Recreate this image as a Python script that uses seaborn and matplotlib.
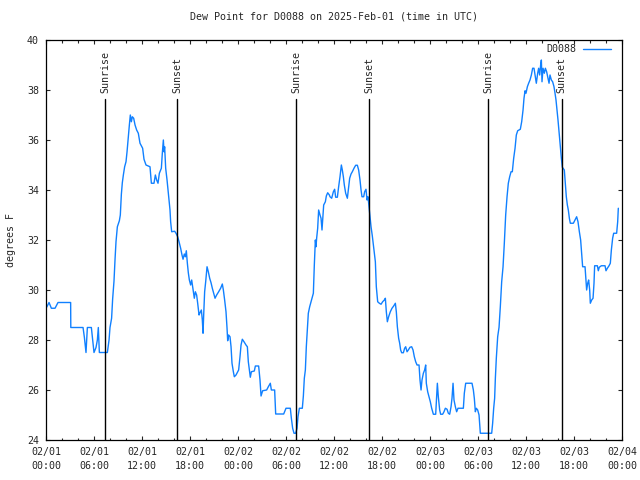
#DEW POINT D0088 - 3 day plot (gnuplot look)

import pandas as pd
import matplotlib
matplotlib.use("Agg")
import matplotlib.pyplot as plt
import matplotlib.dates as mdates
import seaborn as sns

#hours since 2025-02-01 00:00 UTC
hours = [0.08, 0.38, 0.67, 1.13, 1.5, 3.08, 3.1, 4.63, 4.8, 5.0, 5.17, 5.67, 5.83, 6.0, 6.25, 6.42,
         6.54, 6.67, 7.67, 7.88, 8.0, 8.2, 8.33, 8.5, 8.63, 8.75, 8.92, 9.17, 9.29, 9.42, 9.54, 9.67,
         9.83, 10.0, 10.13, 10.29, 10.42, 10.54, 10.67, 10.79, 10.96, 11.13, 11.33, 11.54,
         11.75, 12.08, 12.25, 12.5, 13.0, 13.17, 13.5, 13.67, 13.83, 14.0, 14.17, 14.42, 14.54, 14.67,
         14.75, 14.83, 14.96, 15.13, 15.25, 15.38, 15.5, 15.58, 15.71, 16.08, 16.25, 16.46, 16.63,
         16.83, 17.0, 17.13, 17.29, 17.42, 17.54, 17.67, 17.79, 17.92, 18.08, 18.21, 18.38, 18.54,
         18.67, 18.83, 18.96, 19.13, 19.25, 19.42, 19.54, 19.63, 19.71, 19.83, 19.96, 20.13, 20.29,
         20.46, 20.63, 20.79, 20.96, 21.13, 21.33, 21.58, 21.83, 22.04, 22.17, 22.33, 22.5, 22.63,
         22.71, 22.83, 23.0, 23.13, 23.25, 23.42, 23.54,
         23.75, 24.08, 24.25, 24.38, 24.54, 24.75, 25.0, 25.17, 25.29, 25.42, 25.54, 25.67, 26.04,
         26.17, 26.58, 26.75, 26.88, 27.08, 27.58, 27.79, 28.04, 28.17, 28.58, 28.71, 29.71, 30.0,
         30.54, 30.67, 30.83, 31.0, 31.21, 31.38, 31.5, 31.67, 32.04, 32.17, 32.29, 32.42, 32.54,
         32.67, 32.79, 32.96, 33.13, 33.29, 33.42, 33.54, 33.67, 33.75, 33.83, 33.96, 34.08, 34.25,
         34.38, 34.5, 34.58, 34.71, 34.92, 35.04, 35.21, 35.42,
         35.5, 35.71, 35.92, 36.08, 36.21, 36.42, 36.58, 36.75, 36.92, 37.04, 37.17, 37.29, 37.46,
         37.67, 37.83, 37.96, 38.13, 38.29, 38.5, 38.71, 38.92, 39.08, 39.25, 39.38, 39.5, 39.71,
         39.83, 40.0, 40.13, 40.25, 40.38, 40.5, 40.63, 40.79, 40.92, 41.04, 41.17, 41.29, 41.46,
         41.67, 41.88, 42.08, 42.29, 42.42, 42.54, 42.67, 42.83, 43.04, 43.25, 43.46, 43.67, 43.79,
         43.92, 44.08, 44.21, 44.33, 44.46, 44.67, 44.83, 44.96, 45.13, 45.29, 45.5, 45.71, 45.88,
         46.04, 46.21, 46.38, 46.63, 46.75, 46.88, 47.0, 47.17, 47.33, 47.46,
         47.54, 47.71, 47.88, 48.04, 48.21, 48.42, 48.71, 48.83, 48.92, 49.04, 49.21, 49.33, 49.58,
         49.75, 49.92, 50.13, 50.29, 50.46, 50.63, 50.75, 50.88, 51.0, 51.17, 51.33, 51.5, 52.17,
         52.29, 52.46, 53.25, 53.42, 53.54, 53.67, 53.79, 53.96, 54.13, 54.29, 55.71, 55.83, 55.96,
         56.08, 56.17, 56.29, 56.46, 56.63, 56.79, 56.96, 57.13, 57.29, 57.46, 57.63, 57.79, 57.96,
         58.13, 58.29, 58.46, 58.63, 58.79, 58.96, 59.29,
         59.46, 59.63, 59.75, 59.88, 60.0, 60.17, 60.33, 60.5, 60.67, 60.83, 61.0, 61.17, 61.29,
         61.46, 61.58, 61.71, 61.83, 61.92, 62.0, 62.13, 62.29, 62.42, 62.58, 62.75, 62.88, 63.0,
         63.17, 63.33, 63.5, 63.63, 63.75, 63.88, 64.0, 64.13, 64.29, 64.42, 64.54, 64.79, 64.92,
         65.04, 65.17, 65.29, 65.42, 65.54, 65.92, 66.08, 66.33, 66.5, 66.67, 66.83, 66.96, 67.08,
         67.38, 67.5, 67.58, 67.71, 67.83, 67.96, 68.04, 68.21, 68.38, 68.5, 68.58, 68.92, 69.04,
         69.16, 69.42, 69.88, 70.0, 70.17, 70.38, 70.54, 70.67, 70.83, 70.96, 71.33, 71.46, 71.54]

#dew point degrees F
dewpoint = [29.31, 29.5, 29.27, 29.27, 29.5, 29.5, 28.5, 28.5, 28.1, 27.5, 28.5, 28.5, 28.0, 27.5, 27.7, 28.0,
            28.5, 27.5, 27.5, 28.0, 28.5, 28.87, 29.64, 30.36, 31.23, 31.93, 32.53, 32.77, 33.0, 33.83, 34.29, 34.6,
            34.93, 35.13, 35.53, 36.13, 36.6, 37.0, 36.73, 36.93, 36.87, 36.6, 36.4, 36.27,
            35.87, 35.67, 35.23, 35.0, 34.93, 34.27, 34.27, 34.6, 34.4, 34.27, 34.67, 34.87, 35.47, 36.0,
            35.53, 35.73, 34.87, 34.4, 34.0, 33.6, 33.2, 32.73, 32.33, 32.35, 32.27, 32.13, 31.93,
            31.67, 31.4, 31.23, 31.44, 31.33, 31.57, 31.07, 30.69, 30.4, 30.2, 30.4, 30.03, 29.67,
            29.93, 29.8, 29.47, 29.0, 29.09, 29.2, 28.8, 28.27, 29.0, 29.93, 30.33, 30.93, 30.73,
            30.47, 30.29, 30.07, 29.87, 29.67, 29.8, 29.93, 30.07, 30.24, 30.0, 29.6, 29.13, 28.47,
            27.97, 28.2, 28.13, 27.73, 27.07, 26.73, 26.53,
            26.6, 26.8, 27.33, 27.8, 28.03, 27.93, 27.8, 27.73, 27.13, 26.8, 26.51, 26.73, 26.76,
            26.96, 26.96, 26.4, 25.76, 25.97, 26.0, 26.13, 26.27, 26.0, 26.0, 25.04, 25.04, 25.27,
            25.27, 24.87, 24.47, 24.27, 24.27, 24.47, 24.93, 25.27, 25.27, 25.76, 26.47, 26.8, 27.73,
            28.4, 29.07, 29.33, 29.53, 29.73, 29.87, 31.0, 32.0, 31.73, 32.07, 32.47, 33.2, 33.0,
            32.87, 32.4, 32.8, 33.4, 33.53, 33.76, 33.89, 33.8,
            33.73, 33.67, 33.93, 34.03, 33.71, 33.71, 34.13, 34.53, 35.0, 34.8, 34.53, 34.2, 33.87,
            33.67, 34.13, 34.47, 34.64, 34.73, 34.87, 34.99, 34.99, 34.8, 34.4, 34.0, 33.73, 33.73,
            33.93, 34.03, 33.6, 33.73, 33.33, 32.93, 32.53, 32.16, 31.8, 31.47, 31.13, 30.13, 29.53,
            29.47, 29.43, 29.53, 29.6, 29.67, 29.13, 28.73, 28.93, 29.13, 29.27, 29.36, 29.47, 29.13,
            28.53, 28.07, 27.87, 27.6, 27.49, 27.49, 27.67, 27.73, 27.53, 27.6, 27.71, 27.73, 27.6,
            27.33, 27.13, 27.0, 27.0, 26.4, 26.0, 26.4, 26.67, 26.8, 27.0,
            26.27, 25.93, 25.73, 25.53, 25.27, 25.03, 25.03, 25.73, 26.27, 25.73, 25.2, 25.03, 25.03,
            25.13, 25.27, 25.23, 25.07, 25.03, 25.33, 25.67, 26.27, 25.6, 25.33, 25.13, 25.27, 25.27,
            25.87, 26.27, 26.27, 26.0, 25.67, 25.13, 25.27, 25.2, 25.0, 24.27, 24.27, 24.67, 25.27,
            25.67, 26.47, 27.27, 28.13, 28.51, 29.33, 30.33, 30.93, 31.87, 33.0, 33.73, 34.27, 34.53,
            34.73, 34.73, 35.27, 35.67, 36.2, 36.37, 36.43,
            36.73, 37.2, 37.67, 37.97, 37.87, 38.13, 38.27, 38.4, 38.6, 38.87, 38.87, 38.53, 38.27,
            38.67, 38.87, 38.6, 39.0, 39.2, 38.33, 38.87, 38.67, 38.87, 38.73, 38.47, 38.27, 38.6,
            38.4, 38.33, 38.13, 37.87, 37.6, 37.2, 36.8, 36.33, 35.8, 35.27, 34.91, 34.8, 34.27,
            33.73, 33.4, 33.2, 32.87, 32.67, 32.67, 32.77, 32.93, 32.73, 32.33, 32.0, 31.47, 30.93,
            30.93, 30.4, 30.0, 30.27, 30.4, 30.0, 29.47, 29.6, 29.67, 30.27, 30.97, 30.97, 30.77,
            30.91, 30.97, 30.97, 30.77, 30.87, 30.97, 31.07, 31.6, 32.07, 32.27, 32.27, 32.73, 33.27]

#sun events
sun_times = ["2025-02-01 07:25", "2025-02-01 16:25", "2025-02-02 07:17",
             "2025-02-02 16:26", "2025-02-03 07:17", "2025-02-03 16:27"]
sun_labels = ["Sunrise", "Sunset", "Sunrise", "Sunset", "Sunrise", "Sunset"]

sns.set_style("ticks")
plt.rcParams["font.family"] = ["DejaVu Sans Mono"]
plt.rcParams["font.size"] = 7.2

df = pd.DataFrame({"time": pd.Timestamp("2025-02-01") + pd.to_timedelta(hours, unit="h"),
                   "dewpoint": dewpoint})

fig, ax = plt.subplots(figsize=(6.4, 4.8), dpi=100)
fig.subplots_adjust(left=46/640, right=622/640, top=1-40/480, bottom=1-440/480)

sns.lineplot(data=df, x="time", y="dewpoint", color="#1080ff", lw=1.0, label="D0088", ax=ax)

#sunrise / sunset markers
for t, lab in zip(sun_times, sun_labels):
    tt = pd.Timestamp(t)
    ax.axvline(tt, ymin=0, ymax=0.8525, color="black", lw=1.0)
    ax.text(tt, 0.868, lab, rotation=90, ha="center", va="bottom",
            transform=ax.get_xaxis_transform(), fontsize=7.2)

ax.set_xlim(pd.Timestamp("2025-02-01"), pd.Timestamp("2025-02-04"))
ax.set_ylim(24, 40)
ax.set_yticks(range(24, 41, 2))
ax.xaxis.set_major_locator(mdates.HourLocator(byhour=[0, 6, 12, 18]))
ax.xaxis.set_minor_locator(mdates.HourLocator(interval=2))
ax.xaxis.set_major_formatter(mdates.DateFormatter("%m/%d\n%H:%M"))
for lab in ax.get_xticklabels():
    lab.set_linespacing(1.5)

ax.tick_params(which="both", direction="in", top=True, right=True, width=0.8, labelsize=7.2)
ax.tick_params(which="major", length=3, pad=5)
ax.tick_params(which="minor", length=1.8)
for sp in ax.spines.values():
    sp.set_linewidth(0.9)
    sp.set_color("black")

ax.set_title("Dew Point for D0088 on 2025-Feb-01 (time in UTC)", fontsize=7.2, pad=15)
ax.set_xlabel("")
ax.set_ylabel("degrees F", fontsize=7.2, labelpad=8)

leg = ax.legend(loc="upper right", bbox_to_anchor=(1 - 7/576, 1.0), frameon=False,
                markerfirst=False, handlelength=2.8, fontsize=7.2, borderaxespad=0,
                handletextpad=0.7)

plt.savefig("out.png", dpi=100)
